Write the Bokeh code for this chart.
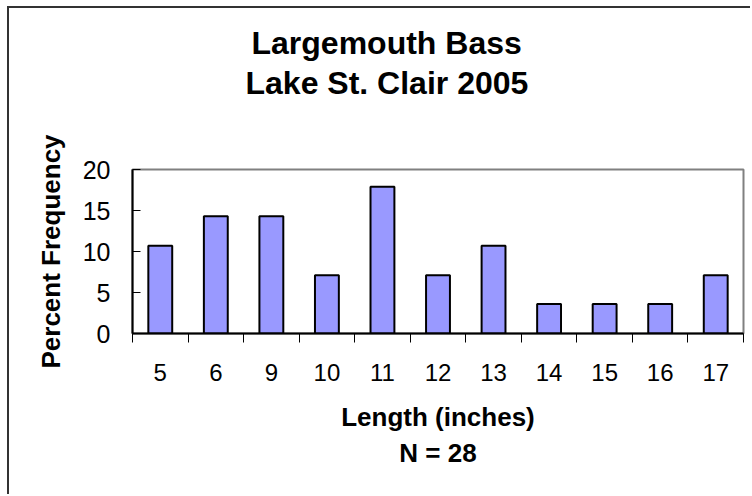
from bokeh.plotting import figure
from bokeh.models import FixedTicker, ColumnDataSource, Range1d, Title
from bokeh.embed import file_html
from bokeh.resources import INLINE

# Data
lengths = ["5", "6", "9", "10", "11", "12", "13", "14", "15", "16", "17"]
percent = [10.7, 14.3, 14.3, 7.1, 17.9, 7.1, 10.7, 3.6, 3.6, 3.6, 7.1]
y_ticks = [0, 5, 10, 15, 20]
title_lines = ["Largemouth Bass", "Lake St. Clair 2005"]
x_label = "Length (inches)"
n_label = "N = 28"
y_label = "Percent Frequency"

FONT = "Liberation Sans"

n = len(lengths)
centers = [i + 0.5 for i in range(n)]
bounds = list(range(n + 1))

p = figure(width=743, height=488, output_backend="svg", toolbar_location=None,
           x_range=Range1d(0, n), y_range=Range1d(0, 20),
           min_border_left=123, min_border_right=9, min_border_top=161,
           min_border_bottom=163)
p.styles = {"margin-left": "7px", "margin-top": "6px",
            "border-left": "2px solid #333", "border-top": "2px solid #333"}
p.background_fill_color = "white"
p.border_fill_color = "white"
p.outline_line_color = "#808080"
p.outline_line_width = 2
p.xgrid.visible = False
p.ygrid.visible = False
p.title.text = ""

src = ColumnDataSource(dict(x=centers, top=percent, label=lengths))
p.vbar(x="x", top="top", bottom=0, width=0.43, source=src,
       fill_color="#9999FF", line_color="black", line_width=2)

# X axis: labels at centers, tick marks at category boundaries
p.xaxis.ticker = FixedTicker(ticks=centers, minor_ticks=bounds)
p.xaxis.major_label_overrides = {c: l for c, l in zip(centers, lengths)}
p.xaxis.major_tick_out = 0
p.xaxis.major_tick_in = 0
p.xaxis.minor_tick_out = 9
p.xaxis.minor_tick_in = 0
p.xaxis.minor_tick_line_color = "black"
p.xaxis.minor_tick_line_width = 1
p.xaxis.axis_line_color = "black"
p.xaxis.axis_line_width = 2
p.xaxis.major_label_text_font = FONT
p.xaxis.major_label_text_font_size = "24px"
p.xaxis.major_label_text_color = "black"
p.xaxis.major_label_standoff = 21
p.xaxis.axis_label = x_label + "\n" + n_label
p.xaxis.axis_label_text_font = FONT
p.xaxis.axis_label_text_font_size = "26px"
p.xaxis.axis_label_text_font_style = "bold"
p.xaxis.axis_label_text_color = "black"
p.xaxis.axis_label_text_line_height = 1.22
p.xaxis.axis_label_standoff = 18

# Y axis
p.yaxis.ticker = FixedTicker(ticks=y_ticks)
p.yaxis.major_tick_in = 8
p.yaxis.major_tick_out = 0
p.yaxis.minor_tick_line_color = None
p.yaxis.major_tick_line_color = "black"
p.yaxis.axis_line_color = "black"
p.yaxis.axis_line_width = 2
p.yaxis.major_label_text_font = FONT
p.yaxis.major_label_text_font_size = "25px"
p.yaxis.major_label_text_color = "black"
p.yaxis.major_label_standoff = 22
p.yaxis.axis_label = y_label
p.yaxis.axis_label_text_font = FONT
p.yaxis.axis_label_text_font_size = "26px"
p.yaxis.axis_label_text_font_style = "bold"
p.yaxis.axis_label_text_color = "black"
p.yaxis.axis_label_standoff = 14

# Spacer between frame and title block
p.add_layout(Title(text=" ", standoff=29, text_font=FONT, text_font_size="32px"), "above")
# Title lines (nearest the frame first)
p.add_layout(Title(text=title_lines[1], align="left", offset=113,
                   vertical_align="middle", standoff=2,
                   text_font=FONT, text_font_size="32px",
                   text_font_style="bold", text_color="black"), "above")
p.add_layout(Title(text=title_lines[0], align="left", offset=119,
                   vertical_align="middle", standoff=2,
                   text_font=FONT, text_font_size="32px",
                   text_font_style="bold", text_color="black"), "above")

open("out.html", "w").write(file_html(p, INLINE))
